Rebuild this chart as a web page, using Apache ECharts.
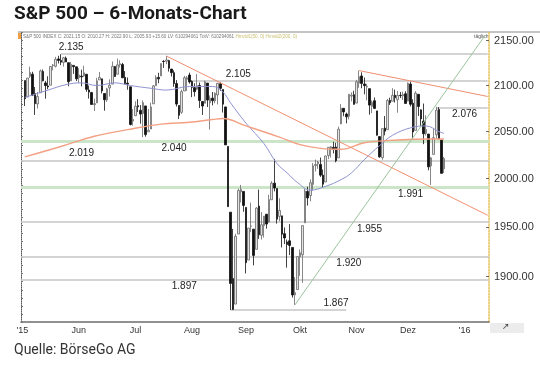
<!DOCTYPE html>
<html><head><meta charset="utf-8">
<script src="https://cdn.jsdelivr.net/npm/echarts@6/dist/echarts.min.js"></script>
<style>html,body{margin:0;padding:0;background:#fff}#c{width:540px;height:369px}</style>
</head><body><div id="c"></div>
<script>
// ---- categories (trading days) ----
const tradingMonths = [
 ['2015-04',[30]],
 ['2015-05',[1,4,5,6,7,8,11,12,13,14,15,18,19,20,21,22,26,27,28,29]],
 ['2015-06',[1,2,3,4,5,8,9,10,11,12,15,16,17,18,19,22,23,24,25,26,29,30]],
 ['2015-07',[1,2,6,7,8,9,10,13,14,15,16,17,20,21,22,23,24,27,28,29,30,31]],
 ['2015-08',[3,4,5,6,7,10,11,12,13,14,17,18,19,20,21,24,25,26,27,28,31]],
 ['2015-09',[1,2,3,4,8,9,10,11,14,15,16,17,18,21,22,23,24,25,28,29,30]],
 ['2015-10',[1,2,5,6,7,8,9,12,13,14,15,16,19,20,21,22,23,26,27,28,29,30]],
 ['2015-11',[2,3,4,5,6,9,10,11,12,13,16,17,18,19,20,23,24,25,27,30]],
 ['2015-12',[1,2,3,4,7,8,9,10,11,14,15,16,17,18,21]]
];
const padBefore = ['2015-04-29'];
const padAfter = ['2015-12-22','2015-12-23','2015-12-24','2015-12-28','2015-12-29','2015-12-30','2015-12-31',
 '2016-01-04','2016-01-05','2016-01-06','2016-01-07','2016-01-08','2016-01-11','2016-01-12','2016-01-13','2016-01-14','2016-01-15'];
const tickDates = ['2015-04-29','2015-06-01','2015-07-01','2015-08-03','2015-09-01','2015-10-01','2015-11-02','2015-12-01','2016-01-04'];
const tickTexts = ["'15","Jun","Jul","Aug","Sep","Okt","Nov","Dez","'16"];
const priceTicks = [1900,1950,2000,2050,2100,2150];

// ---- OHLC ----
const open = [2105.5,
 2087.4,2110.2,2112.6,2091.3,2079.9,2092.1,2115.6,2102.9,2099.6,2100.4,2122.1,2121.3,2129.5,2127.8,2125.6,2130.4,2125.3,2105.1,2122.3,2120.7,
 2108.6,2110.4,2110.6,2112.4,2095.1,2092.3,2079.1,2081.0,2106.2,2107.4,2091.3,2084.3,2097.4,2101.6,2121.1,2112.5,2123.0,2123.2,2109.1,2102.6,2098.6,2061.2,
 2067.0,2078.0,2073.0,2069.5,2077.7,2049.7,2052.7,2080.0,2099.7,2109.0,2110.6,2126.8,2126.9,2127.6,2118.2,2114.2,2102.2,2078.2,2070.8,2094.0,2106.8,2111.6,
 2104.5,2097.7,2096.0,2100.1,2082.6,2080.6,2102.7,2081.1,2086.2,2083.2,2089.7,2101.9,2095.7,2076.6,2034.1,1965.2,1898.1,1872.8,1942.8,1986.1,1986.7,
 1970.1,1916.5,1950.8,1947.8,1927.3,1971.5,1941.6,1951.5,1963.1,1955.1,1978.0,1995.3,1989.7,1960.8,1961.4,1943.2,1934.8,1935.9,1929.2,1881.9,1887.1,
 1919.7,1921.8,1954.3,1986.6,1982.3,1994.0,2013.7,2015.7,2015.0,2003.7,1996.5,2024.4,2031.7,2033.1,2033.5,2021.9,2058.2,2075.1,2068.8,2066.5,2088.4,2090.0,
 2080.8,2102.6,2110.6,2101.7,2098.6,2096.6,2077.2,2083.4,2072.3,2044.6,2022.1,2053.7,2052.0,2083.7,2082.8,2089.4,2084.4,2089.3,2088.8,2091.0,
 2082.9,2101.7,2080.7,2051.2,2090.4,2073.4,2061.2,2047.9,2047.3,2013.4,2025.6,2046.5,2073.8,2040.8,2010.3];
const high = [2105.5,
 2108.4,2120.9,2115.2,2098.4,2092.9,2117.7,2117.7,2105.1,2110.2,2121.5,2123.9,2131.8,2133.0,2134.7,2131.8,2132.2,2125.3,2126.2,2122.3,2120.7,
 2119.2,2117.6,2121.9,2112.9,2100.0,2093.0,2085.6,2108.5,2115.0,2107.4,2091.3,2097.4,2106.8,2126.6,2121.6,2129.9,2128.0,2125.1,2116.0,2108.9,2098.6,2074.3,
 2082.8,2085.1,2078.6,2083.7,2077.7,2074.3,2081.3,2100.7,2111.4,2114.1,2124.4,2128.1,2132.8,2128.5,2118.5,2116.9,2106.0,2078.2,2095.6,2110.6,2110.5,2114.2,
 2105.7,2102.5,2112.7,2103.3,2082.6,2105.4,2102.7,2089.1,2092.9,2092.5,2102.9,2103.5,2095.7,2076.6,2034.1,1965.2,1948.0,1943.1,1989.6,1993.5,1986.7,
 1970.1,1948.9,1975.0,1947.8,1970.4,1988.6,1965.3,1961.1,1963.1,1983.2,1997.3,2020.9,1989.7,1979.6,1961.4,1949.5,1937.2,1952.9,1929.2,1899.5,1920.5,
 1927.2,1951.4,1989.2,1991.6,1999.3,2016.5,2020.1,2018.7,2022.3,2009.6,2024.2,2033.5,2034.5,2039.1,2038.0,2055.2,2079.7,2075.1,2070.4,2090.4,2092.5,2094.3,
 2106.2,2116.5,2114.6,2108.8,2101.9,2096.6,2083.7,2086.9,2072.3,2044.6,2053.2,2066.7,2085.3,2086.7,2097.1,2095.6,2094.1,2093.0,2093.3,2093.8,
 2103.4,2104.3,2085.0,2093.8,2090.4,2073.9,2080.3,2067.6,2047.3,2022.9,2053.9,2076.7,2076.4,2040.8,2022.9];
const low = [2077.6,
 2087.4,2108.3,2088.5,2067.9,2074.9,2092.1,2104.6,2085.6,2096.0,2100.4,2116.8,2120.0,2124.5,2122.6,2120.9,2126.1,2099.2,2105.1,2112.9,2104.9,
 2102.5,2099.1,2109.6,2093.2,2085.7,2079.1,2072.1,2081.0,2106.2,2091.3,2072.5,2082.1,2087.9,2101.6,2109.5,2112.5,2119.9,2108.2,2101.8,2095.4,2056.6,2056.3,
 2066.8,2071.0,2058.4,2044.0,2044.5,2049.7,2052.7,2080.0,2099.7,2102.5,2110.6,2119.5,2123.7,2115.4,2110.0,2098.6,2077.1,2063.5,2069.1,2094.0,2094.1,2102.1,
 2087.3,2088.0,2095.0,2075.5,2067.9,2080.6,2076.5,2052.1,2078.3,2080.6,2079.3,2094.1,2070.5,2035.7,1970.9,1867.0,1867.1,1872.8,1942.8,1975.2,1965.6,
 1903.1,1916.5,1944.7,1911.2,1927.3,1937.9,1937.2,1939.2,1948.3,1954.3,1977.9,1986.7,1953.5,1955.8,1929.2,1932.6,1908.9,1921.5,1879.2,1871.9,1887.1,
 1900.7,1893.7,1954.3,1972.0,1976.4,1987.5,2007.6,2010.3,2001.8,1990.7,1996.5,2020.5,2022.3,2026.6,2017.2,2021.9,2058.2,2066.5,2058.8,2063.1,2082.6,2079.3,
 2080.8,2097.5,2097.0,2090.4,2083.7,2068.2,2069.9,2074.9,2045.7,2022.0,2019.9,2045.9,2052.0,2078.8,2082.8,2081.4,2070.3,2086.3,2084.1,2080.4,
 2082.9,2077.1,2042.4,2051.2,2066.8,2056.0,2036.5,2045.7,2008.8,1993.3,2025.6,2042.4,2041.7,2005.6,2005.9];
const close = [2085.5,
 2108.3,2114.5,2089.5,2080.2,2088.0,2116.1,2105.3,2099.9,2098.5,2121.1,2122.7,2129.2,2127.8,2125.9,2130.8,2126.1,2104.2,2123.5,2120.8,2107.4,
 2111.7,2109.6,2114.1,2095.8,2092.8,2079.3,2080.2,2105.2,2108.9,2094.1,2084.4,2096.3,2100.4,2121.2,2110.0,2122.9,2124.2,2108.6,2102.3,2101.5,2057.6,2063.1,
 2077.4,2076.8,2068.8,2081.3,2046.7,2051.3,2076.6,2099.6,2108.9,2107.4,2124.3,2126.6,2128.3,2119.2,2114.2,2102.2,2079.7,2067.6,2093.3,2108.6,2108.6,2104.0,
 2098.0,2093.3,2099.8,2083.6,2077.6,2104.2,2084.1,2086.1,2083.4,2091.5,2102.4,2096.9,2079.6,2035.7,1970.9,1893.2,1867.6,1940.5,1987.7,1988.9,1972.2,
 1913.9,1948.9,1951.1,1921.2,1969.4,1942.0,1952.3,1961.1,1953.0,1978.1,1995.3,1990.2,1958.0,1967.0,1942.7,1938.8,1932.2,1931.3,1881.8,1884.1,1920.0,
 1923.8,1951.4,1987.1,1979.9,1995.8,2013.4,2014.9,2017.5,2003.7,1994.2,2023.9,2033.1,2033.7,2030.8,2018.9,2052.5,2075.2,2071.2,2065.9,2090.4,2089.4,2079.4,
 2104.1,2109.8,2102.3,2099.9,2099.2,2078.6,2081.7,2075.0,2046.0,2023.0,2053.2,2050.4,2083.6,2081.2,2089.2,2086.6,2089.1,2088.9,2090.1,2080.4,
 2102.6,2079.5,2049.6,2091.7,2077.1,2063.6,2047.6,2052.2,2012.4,2021.9,2043.4,2073.1,2041.9,2005.6,2021.2];

// ---- moving averages ----
const ma50Dates = ['2015-04-30','2015-05-13','2015-05-22','2015-06-02','2015-06-10','2015-06-19','2015-06-29','2015-07-10','2015-07-20','2015-07-31',
 '2015-08-13','2015-08-19','2015-08-24','2015-09-01','2015-09-11','2015-09-18','2015-09-24','2015-09-30','2015-10-07','2015-10-15','2015-10-23',
 '2015-10-29','2015-11-05','2015-11-13','2015-11-20','2015-12-02','2015-12-10','2015-12-17','2015-12-21'];
const ma50Values = [2087,2095,2101,2103,2100,2103,2100,2097,2095,2099,
 2099,2093,2081,2059,2037,2016,2006,1996,1988,1992,1999,
 2006,2020,2035,2046,2054,2056,2050,2048];
const ma200Dates = ['2015-04-30','2015-05-20','2015-06-09','2015-06-26','2015-07-16','2015-07-31','2015-08-13','2015-08-19','2015-09-01',
 '2015-09-21','2015-10-01','2015-10-13','2015-10-23','2015-11-05','2015-11-24','2015-12-14','2015-12-21'];
const ma200Values = [2023,2034,2045,2052,2058,2060,2063,2064,2056,2044,2036,2032,2031,2038,2041,2042,2042];

// ---- horizontal levels ----
const levelValues = [2135,2105,2076,2040,2019,1991,1955,1920,1897,1867];
const levelKinds  = ['gray','gray','gray','green','gray','green','gray','gray','gray','gray'];
const levelFrom   = ['2015-05-20','2015-07-31','2015-12-16',null,null,null,null,null,null,'2015-08-24'];
const levelTo     = ['2016-01-15','2016-01-15','2016-01-15',null,null,null,null,null,null,'2015-10-27'];
const levelTexts  = ['2.135','2.105','2.076','2.040','2.019','1.991','1.955','1.920','1.897','1.867'];
const levelTextAt = ['2015-05-27','2015-08-27','2016-01-04','2015-07-23','2015-06-02','2015-12-02','2015-11-09','2015-10-28','2015-07-29','2015-10-21'];
const levelTextSide = [-1,-1,1,1,-1,1,1,1,1,-1];

// ---- trend lines ----
const trendFromDate = ['2015-07-20','2015-11-03','2015-09-29'];
const trendFromVal  = [2132.8,2116.5,1871.9];
const trendToDate   = ['2016-01-15','2016-01-15','2016-01-14'];
const trendToVal    = [1962,2088,2156];
const trendColors   = ['#f08f70','#f08f70','#9cc49c'];

const lastClose = 2021.15;

// ---- build ----
const dates = [];
tradingMonths.forEach(([m, days]) => days.forEach(d => dates.push(m + '-' + String(d).padStart(2,'0'))));
const categories = padBefore.concat(dates, padAfter);
const ohlc = padBefore.map(() => '-').concat(dates.map((d,i) => [open[i], close[i], low[i], high[i]]), padAfter.map(() => '-'));

const LABEL_FONT = 'Liberation Sans';
const levelLines = levelValues.map((v,i) => {
  const ls = levelKinds[i] === 'green'
    ? {color:'#cce4c8', width:3, type:'solid', opacity:1}
    : {color:'#c6c6c6', width:1.5, type:'solid', opacity:1};
  if (levelFrom[i]) return [{coord:[levelFrom[i], v], lineStyle: ls}, {coord:[levelTo[i], v]}];
  return {yAxis: v, lineStyle: ls};
});
const levelMarks = levelValues.map((v,i) => ({
  coord:[levelTextAt[i], v], value: levelTexts[i],
  label:{offset:[0, levelTextSide[i]*7]}
}));
const trendLines = trendFromDate.map((d,i) => [
  {coord:[d, trendFromVal[i]], lineStyle:{color:trendColors[i], width:1, type:'solid'}},
  {coord:[trendToDate[i], trendToVal[i]]}
]);

const chart = echarts.init(document.getElementById('c'), null, {renderer:'canvas'});
chart.setOption({
  animation:false,
  backgroundColor:'#ffffff',
  grid:{left:21, right:51, top:32, bottom:47, containLabel:false},
  xAxis:{
    type:'category', data:categories, boundaryGap:true,
    axisLine:{show:true, lineStyle:{color:'#6e6e6e', width:1.5}},
    axisTick:{show:false},
    splitLine:{show:false},
    axisLabel:{
      interval:(idx, val) => tickDates.indexOf(val) >= 0,
      formatter:(val) => tickTexts[tickDates.indexOf(val)] || '',
      fontFamily:LABEL_FONT, fontSize:9, color:'#333', margin:4
    }
  },
  yAxis:[{
    type:'log', logBase:10, min:1855.3, max:2159.75, position:'right',
    axisLine:{show:true, lineStyle:{color:'#e6c25a', type:'dotted', width:1.5}},
    axisTick:{show:true, inside:true, length:3, customValues:priceTicks, lineStyle:{color:'#666'}},
    axisLabel:{customValues:priceTicks, formatter:(v) => Number(v).toFixed(2),
      fontFamily:LABEL_FONT, fontSize:11, color:'#333', margin:5},
    splitLine:{show:false}
  },{
    type:'value', min:0, max:36, interval:1, position:'left',
    axisLine:{show:true, lineStyle:{color:'#555', type:'dotted', width:1}},
    axisTick:{show:true, inside:true, length:2, lineStyle:{color:'#777'}},
    axisLabel:{show:false}, splitLine:{show:false}
  }],
  series:[
    {
      name:'levels', type:'line', data:[], z:1, silent:true,
      markLine:{silent:true, symbol:['none','none'], label:{show:false}, data:levelLines, z:1},
      markPoint:{silent:true, symbol:'circle', symbolSize:0,
        label:{show:true, position:'inside', formatter:(p)=>p.value, color:'#222', fontSize:10, fontFamily:LABEL_FONT},
        data:levelMarks}
    },
    {
      name:'S&P 500', type:'candlestick', data:ohlc, z:3, barWidth:2.2,
      itemStyle:{color:'#e2e2e2', color0:'#111111', borderColor:'#6a6a6a', borderColor0:'#111111', borderWidth:0.8},
      markLine:{silent:true, symbol:['none','none'], label:{show:false}, data:trendLines.concat([
        {yAxis:lastClose, lineStyle:{opacity:0}, label:{show:true, position:'end', formatter:'2021.15',
          backgroundColor:'#8c8c8c', color:'#ffffff', fontSize:11, fontFamily:LABEL_FONT, padding:[1,2,0,2], distance:1}}
      ])}
    },
    {
      name:'MA50', type:'line', smooth:0.4, showSymbol:false, connectNulls:true, z:4,
      data: ma50Dates.map((d,i) => [d, ma50Values[i]]),
      lineStyle:{color:'#8f93d0', width:1}
    },
    {
      name:'MA200', type:'line', smooth:0.4, showSymbol:false, connectNulls:true, z:4,
      data: ma200Dates.map((d,i) => [d, ma200Values[i]]),
      lineStyle:{color:'#f3a184', width:1.4}
    }
  ],
  graphic:[
    {type:'text', left:14, top:5, style:{text:'S&P 500 – 6-Monats-Chart', font:'bold 19px Roboto', fill:'#1a1a1a'}},
    {type:'line', shape:{x1:18, y1:32, x2:540, y2:32}, style:{stroke:'#8a8a8a', lineWidth:1.2}},
    {type:'rect', shape:{x:18, y:33, width:3, height:6}, style:{fill:'#f0a040'}},
    {type:'text', left:23, top:34, style:{
      text:'{a|S&P 500 INDEX C: 2021.15 O: 2010.27 H: 2022.90 L: 2005.93 +15.60 LV: 610294061 TotV: 610294061}{b| Hmvid1(50, 0) Hmvid2(200, 0)}',
      rich:{a:{font:'4.6px "Liberation Sans"', fill:'#777'}, b:{font:'4.6px "Liberation Sans"', fill:'#c9c070'}}
    }},
    {type:'text', left:474, top:34, style:{text:'täglich', font:'5px "Liberation Sans"', fill:'#555'}},
    {type:'rect', shape:{x:490, y:323, width:34, height:10}, style:{fill:'#ececec'}},
    {type:'text', left:502, top:322, style:{text:'↗', font:'9px "DejaVu Sans"', fill:'#444'}},
    {type:'text', left:14, top:343, style:{text:'Quelle: BörseGo AG', font:'14px Roboto', fill:'#333'}}
  ]
});
</script>
</body></html>
